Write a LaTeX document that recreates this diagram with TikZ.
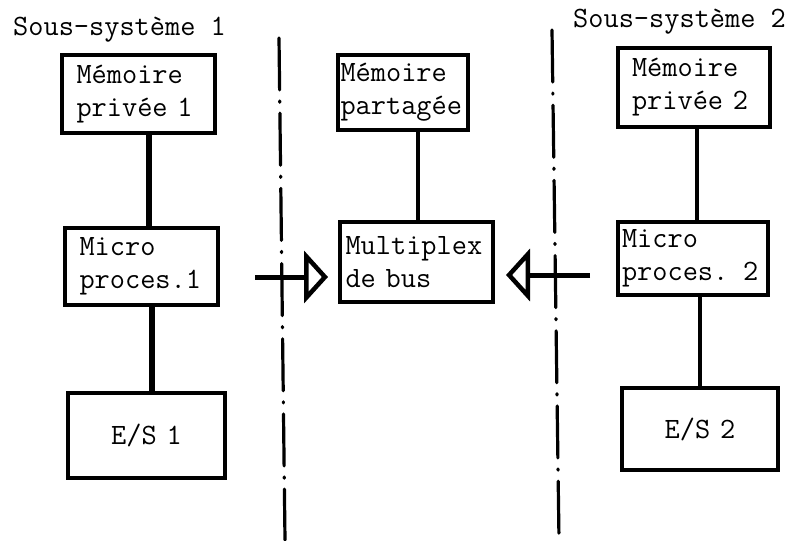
\documentclass[tikz,border=0pt]{standalone}
\usepackage{tikz}
\usetikzlibrary{arrows.meta}
\tikzset{
  boite/.style={draw=black, line width=4pt, inner sep=0pt, text width=#1, align=left, font=\ttfamily\fontsize{29.5}{33}\selectfont},
  boite/.default=124pt,
  lien/.style={draw=black, line width=4pt},
  axe/.style={draw=black, line width=3.2pt, line cap=round, dash pattern=on 52pt off 11pt on 1.2pt off 11pt},
  fleche/.style={draw=black, line width=5pt, -{Triangle[open, length=24pt, width=52pt, line width=4.5pt]}},
  titre/.style={font=\ttfamily\fontsize{29.5}{33}\selectfont, inner sep=0pt}
}
\begin{document}
\begin{tikzpicture}[x=1pt, y=-1pt]
  \useasboundingbox (0,0) rectangle (799,540);

  % sous-systeme 1
  \node[titre, anchor=base west] (t1) at (13,36) {Sous-système 1};
  \node[boite, minimum width=153pt, minimum height=78pt] (mp1) at (138.5,94) {Mémoire\\privée 1};
  \node[boite, minimum width=153pt, minimum height=77pt] (mu1) at (141.5,266.5) {Micro\\proces.1};
  \node[boite=80pt, minimum width=157pt, minimum height=85pt, align=center] (es1) at (146.5,435.5) {E/S\ 1};

  % partie commune
  \node[boite=125pt, minimum width=130pt, minimum height=75pt] (mpart) at (403,92.5) {Mémoire\\partagée};
  \node[boite=142pt, minimum width=153pt, minimum height=80pt] (mux) at (416.5,262) {Multiplex\\de bus};

  % sous-systeme 2
  \node[titre, anchor=base west] (t2) at (573,28) {Sous-système 2};
  \node[boite, minimum width=152pt, minimum height=79pt] (mp2) at (694,87.5) {Mémoire\\privée 2};
  \node[boite=142pt, minimum width=150pt, minimum height=73pt] (mu2) at (693,258.5) {Micro\\proces. 2};
  \node[boite=80pt, minimum width=156pt, minimum height=82pt, align=center] (es2) at (700,429) {E/S\ 2};

  % liaisons
  \draw[lien, line width=5.5pt] (mp1.south -| 149,0) -- (mu1.north -| 149,0);
  \draw[lien, line width=5.5pt] (mu1.south -| 152,0) -- (es1.north -| 152,0);
  \draw[lien] (mpart.south -| 418,0) -- (mux.north -| 418,0);
  \draw[lien] (mp2.south -| 697,0) -- (mu2.north -| 697,0);
  \draw[lien] (mu2.south -| 700,0) -- (es2.north -| 700,0);

  % frontieres
  \draw[axe] (279,38) -- (285,540);
  \draw[axe] (552,30) -- (559,540);

  % acces au bus
  \coordinate (a1) at (255,277);
  \coordinate (a2) at (590,275);
  \draw[fleche, shorten >=10pt] (a1) -- (a1 -| mux.west);
  \draw[fleche, shorten >=11pt] (a2) -- (a2 -| mux.east);
\end{tikzpicture}
\end{document}
